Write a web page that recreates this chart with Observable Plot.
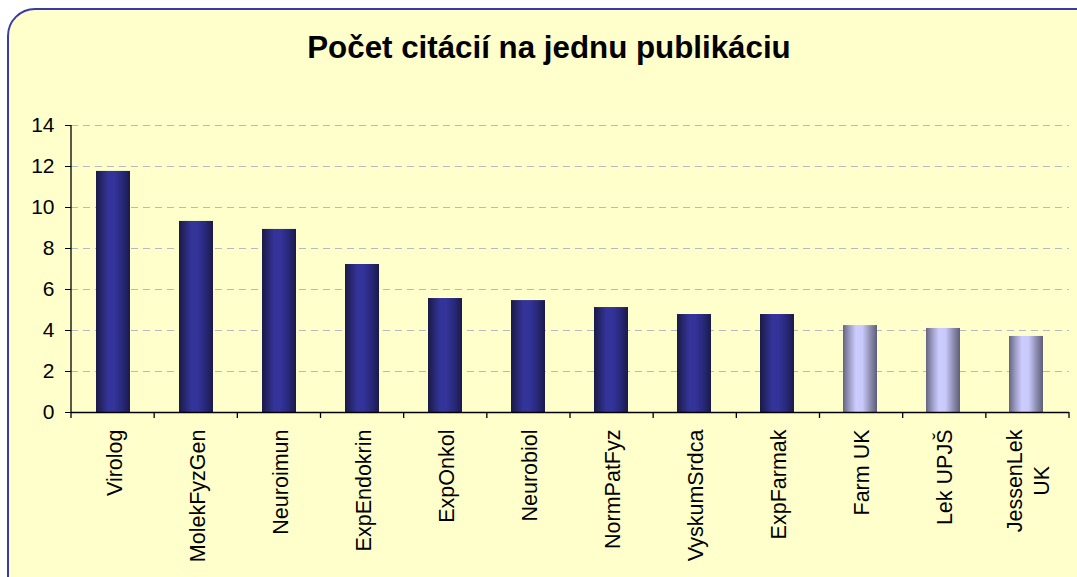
<!DOCTYPE html>
<html><head><meta charset="utf-8">
<script src="https://cdn.jsdelivr.net/npm/d3@7"></script>
<script src="https://cdn.jsdelivr.net/npm/@observablehq/plot@0.6"></script>
<style>
body{margin:0;background:#fff;overflow:hidden;}
#wrap{position:relative;width:1077px;height:577px;overflow:hidden;}
#panel{position:absolute;left:7px;top:8px;width:1100px;height:620px;background:#FFFFCC;border:2px solid #3b3ba8;border-radius:28px;box-sizing:border-box}
#chart{position:absolute;left:0;top:0}
#title{position:absolute;left:7px;width:1084px;top:32px;text-align:center;font:bold 31.3px "Liberation Sans",Arial,sans-serif;line-height:31px;color:#000}
</style></head>
<body><div id="wrap"><div id="panel"></div><div id="chart"></div><div id="title">Počet citácií na jednu publikáciu</div></div>
<script>
const categories = ["Virolog","MolekFyzGen","Neuroimun","ExpEndokrin","ExpOnkol","Neurobiol","NormPatFyz","VyskumSrdca","ExpFarmak","Farm UK","Lek UPJŠ","JessenLek UK"];
const tickLabels = ["Virolog","MolekFyzGen","Neuroimun","ExpEndokrin","ExpOnkol","Neurobiol","NormPatFyz","VyskumSrdca","ExpFarmak","Farm UK","Lek UPJŠ","JessenLek\nUK"];
const values = [11.76,9.32,8.93,7.22,5.56,5.46,5.12,4.78,4.78,4.24,4.10,3.71];
const groups = ["dark","dark","dark","dark","dark","dark","dark","dark","dark","light","light","light"];
const yTicks = [0,2,4,6,8,10,12,14];

const table = categories.map((c,i)=>({cat:c, val:values[i], group:groups[i]}));

// y-axis line and band-boundary ticks on the x axis
function bandFrame(index, scales, values, dim) {
  const ys = typeof scales.y === "function" ? scales.y : scales.scales.y;
  const r0 = dim.marginLeft, r1 = dim.width - dim.marginRight;
  const n = categories.length;
  const step = (r1 - r0) / n;
  const y0 = ys(0), yTop = ys(yTicks[yTicks.length-1]);
  const g = d3.create("svg:g").attr("stroke","#000").attr("stroke-width",1.3);
  for (let k = 0; k <= n; k++) {
    const x = r0 + k*step;
    g.append("line").attr("x1",x).attr("x2",x).attr("y1",y0).attr("y2",y0+6);
  }
  g.append("line").attr("x1",r0).attr("x2",r0).attr("y1",y0).attr("y2",yTop);
  return g.node();
}

const plot = Plot.plot({
  width: 1077, height: 577,
  marginLeft: 71, marginRight: 8, marginTop: 125, marginBottom: 165,
  style: {fontFamily: '"Liberation Sans", Arial, sans-serif', fontSize: "21px", color: "#000", background: "transparent", overflow: "visible"},
  x: {domain: categories, paddingInner: 0.59, paddingOuter: 0.295},
  y: {domain: [0,14]},
  marks: [
    Plot.gridY(yTicks, {stroke: "#b8b8c0", strokeOpacity: 1, strokeDasharray: "7,5", strokeWidth: 1}),
    Plot.barY(table.filter(d=>d.group==="dark"), {x:"cat", y:"val", fill:"url(#gDark)"}),
    Plot.barY(table.filter(d=>d.group==="light"), {x:"cat", y:"val", fill:"url(#gLight)"}),
    Plot.ruleY([0], {stroke:"#000", strokeWidth:1.3}),
    bandFrame,
    Plot.axisY({ticks: yTicks, tickSize: 6, tickPadding: 11, label: null, fontSize: 21, stroke:"#000"}),
    Plot.axisX({tickSize: 0, tickPadding: 17, tickRotate: -90, label: null, fontSize: 21.5, lineHeight: 1.25,
      tickFormat: d => tickLabels[categories.indexOf(d)]})
  ]
});
plot.style.background = "transparent";
const defs = d3.select(plot).insert("defs", ":first-child");
const gd = defs.append("linearGradient").attr("id","gDark").attr("x1","0").attr("x2","1").attr("y1","0").attr("y2","0");
[[0,"#1a1a48"],[0.15,"#252568"],[0.35,"#333399"],[0.55,"#333399"],[0.78,"#28287a"],[1,"#1a1a48"]].forEach(([o,c])=>gd.append("stop").attr("offset",o).attr("stop-color",c));
const gl = defs.append("linearGradient").attr("id","gLight").attr("x1","0").attr("x2","1").attr("y1","0").attr("y2","0");
[[0,"#64647f"],[0.18,"#9a9ac2"],[0.38,"#ccccff"],[0.58,"#c8c8fa"],[0.8,"#8e8eb2"],[1,"#5e5e78"]].forEach(([o,c])=>gl.append("stop").attr("offset",o).attr("stop-color",c));
document.getElementById("chart").appendChild(plot);

// centre the lines of multi-line tick labels
d3.select(plot).selectAll('g[aria-label="x-axis tick label"] text').each(function(){
  const ts = d3.select(this).selectAll("tspan");
  if (ts.size() < 2) return;
  const lens = ts.nodes().map(t=>t.getComputedTextLength());
  const L = Math.max(...lens);
  ts.each(function(_,i){ d3.select(this).attr("x", -(L - lens[i])/2); });
});
</script>
</body></html>
